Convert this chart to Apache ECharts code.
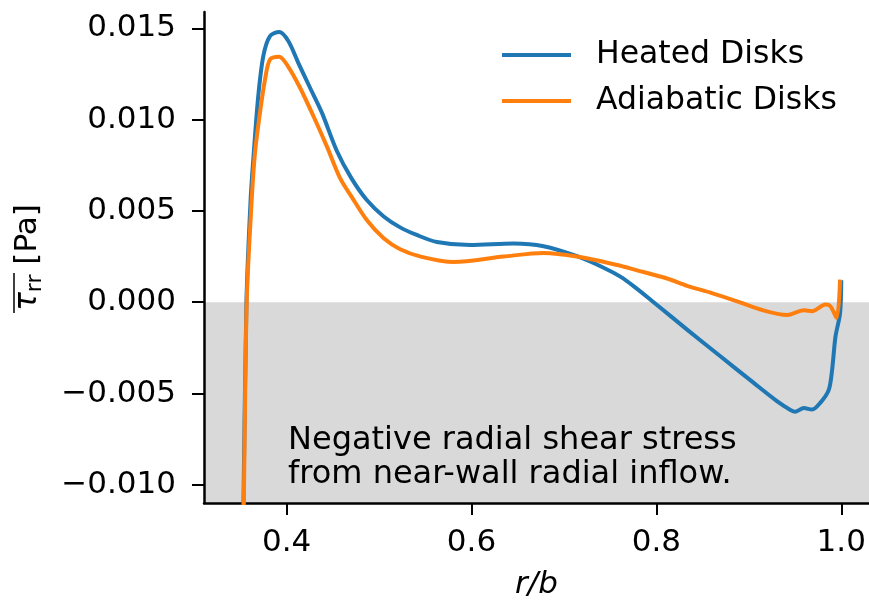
<!DOCTYPE html>
<html>
<head>
<meta charset="utf-8">
<script src="https://cdn.jsdelivr.net/npm/echarts@6/dist/echarts.min.js"></script>
<style>html,body{margin:0;padding:0;background:#fff}#c{width:869px;height:604px}</style>
</head>
<body>
<div id="c"></div>
<script>
// ---- data ----
const seriesNames = ['Heated Disks', 'Adiabatic Disks'];
const xTicks = [0.4, 0.6, 0.8, 1.0];
const yTicks = [-0.010, -0.005, 0.000, 0.005, 0.010, 0.015];

const heatedR = [0.350, 0.3533, 0.3565, 0.3610, 0.3642, 0.3693, 0.3748, 0.3820, 0.3920, 0.4018, 0.4127, 0.4253, 0.4380, 0.4542, 0.4700, 0.4867, 0.5050, 0.5228, 0.5400, 0.5625, 0.5985, 0.6454, 0.6780, 0.7141, 0.7429, 0.7610, 0.7753, 0.7970, 0.8332, 0.8692, 0.9053, 0.9300, 0.9450, 0.9504, 0.9594, 0.9684, 0.9775, 0.9865, 0.9901, 0.9937, 0.9987, 1.0000];
const heatedTau = [-0.0200, -0.0110, 0.0000, 0.0056, 0.0080, 0.0113, 0.0135, 0.01458, 0.0148, 0.01431, 0.0131, 0.01175, 0.0104, 0.0083, 0.0068, 0.0056, 0.0047, 0.0041, 0.0037, 0.0033, 0.00313, 0.00322, 0.00307, 0.00252, 0.00189, 0.0014, 0.00088, 0.0000, -0.0015, -0.00296, -0.00442, -0.0054, -0.0059, -0.0060, -0.0058, -0.00588, -0.0055, -0.0048, -0.0037, -0.0019, -0.0006, 0.0012];

const adiabaticR = [0.350, 0.3536, 0.3568, 0.3622, 0.3658, 0.3712, 0.3766, 0.3820, 0.3918, 0.4018, 0.4145, 0.4289, 0.4434, 0.4578, 0.4700, 0.4867, 0.5050, 0.5228, 0.5450, 0.5805, 0.6346, 0.6780, 0.7141, 0.7610, 0.7753, 0.8115, 0.8332, 0.8600, 0.8873, 0.9125, 0.9414, 0.9594, 0.9684, 0.9829, 0.9883, 0.9950, 0.9987];
const adiabaticTau = [-0.0200, -0.0110, 0.0000, 0.0056, 0.0082, 0.0104, 0.0122, 0.0133, 0.01345, 0.0129, 0.01175, 0.0102, 0.00855, 0.0068, 0.0058, 0.0045, 0.0035, 0.0029, 0.0025, 0.0022, 0.0025, 0.0027, 0.0025, 0.0020, 0.0018, 0.0013, 0.0009, 0.0005, 0.00005, -0.0004, -0.0007, -0.00044, -0.00049, -0.00013, -0.00022, -0.00086, 0.00124];

const annotationLines = ['Negative radial shear stress', 'from near-wall radial inflow.'];

// ---- chart ----
const FONT = 'DejaVu Sans';
const zip = (a, b) => a.map((v, i) => [v, b[i]]);
const chart = echarts.init(document.getElementById('c'), null, {renderer: 'canvas'});

const fmtY = v => (v < -1e-12 ? '\u2212' : '') + Math.abs(v).toFixed(3);

chart.setOption({
  animation: false,
  backgroundColor: '#ffffff',
  grid: {left: 204, right: 0, top: 12, bottom: 101, containLabel: false, outerBoundsMode: 'none'},
  legend: {
    orient: 'vertical', left: 497, top: 34,
    itemWidth: 69, itemHeight: 4, itemGap: 14, icon: 'rect',
    textStyle: {fontFamily: FONT, fontSize: 31.5, color: '#000', lineHeight: 32, padding: [0, 0, 0, 20]},
    data: seriesNames
  },
  xAxis: {
    type: 'value', min: 0.3106, max: 1.03,
    name: 'r/b', nameLocation: 'middle', nameGap: 66,
    nameTextStyle: {fontFamily: FONT, fontSize: 31, fontStyle: 'italic', color: '#000'},
    axisLine: {onZero: false, lineStyle: {color: '#000', width: 2.5}},
    axisTick: {show: true, length: 12, lineStyle: {color: '#000', width: 2}, customValues: xTicks},
    axisLabel: {fontFamily: FONT, fontSize: 31, color: '#000', margin: 24, customValues: xTicks, formatter: v => v.toFixed(1)},
    splitLine: {show: false}
  },
  yAxis: {
    type: 'value', min: -0.011, max: 0.0159,
    name: '{t|τ}{s|rr}{p| [Pa]}', nameLocation: 'middle', nameRotate: 90, nameGap: 152,
    nameTextStyle: {
      fontFamily: FONT, color: '#000',
      rich: {
        t: {fontFamily: FONT, fontSize: 31, fontStyle: 'italic', color: '#000', lineHeight: 44, verticalAlign: 'middle'},
        s: {fontFamily: FONT, fontSize: 22, color: '#000', lineHeight: 44, verticalAlign: 'bottom', padding: [0, 0, 4, 0]},
        p: {fontFamily: FONT, fontSize: 31, color: '#000', lineHeight: 44, verticalAlign: 'middle'}
      }
    },
    axisLine: {show: true, onZero: false, lineStyle: {color: '#000', width: 2.5}},
    axisTick: {show: true, length: 12, lineStyle: {color: '#000', width: 2}, customValues: yTicks},
    axisLabel: {fontFamily: FONT, fontSize: 31, color: '#000', margin: 28, customValues: yTicks, formatter: fmtY},
    splitLine: {show: false}
  },
  series: [
    {
      name: seriesNames[0], type: 'line', data: zip(heatedR, heatedTau),
      showSymbol: false, smooth: 0.3, clip: true,
      color: '#1f77b4',
      lineStyle: {width: 4, color: '#1f77b4', join: 'round', cap: 'butt'},
      markArea: {
        silent: true, z: -1,
        itemStyle: {color: '#d9d9d9'},
        data: [[{yAxis: 0}, {yAxis: 'min'}]]
      },
      z: 2
    },
    {
      name: seriesNames[1], type: 'line', data: zip(adiabaticR, adiabaticTau),
      showSymbol: false, smooth: 0.3, clip: true,
      color: '#ff7f0e',
      lineStyle: {width: 4, color: '#ff7f0e', join: 'round', cap: 'butt'},
      z: 3
    }
  ],
  graphic: [
    {
      type: 'text', left: 288, top: 424, z: 10,
      style: {text: annotationLines.join('\n'), fontFamily: FONT, fontSize: 32, lineHeight: 34, fill: '#000'}
    },
    {
      type: 'line', z: 10,
      shape: {x1: 14, y1: 273, x2: 14, y2: 313},
      style: {stroke: '#000', lineWidth: 1.5}
    }
  ]
});
</script>
</body>
</html>
